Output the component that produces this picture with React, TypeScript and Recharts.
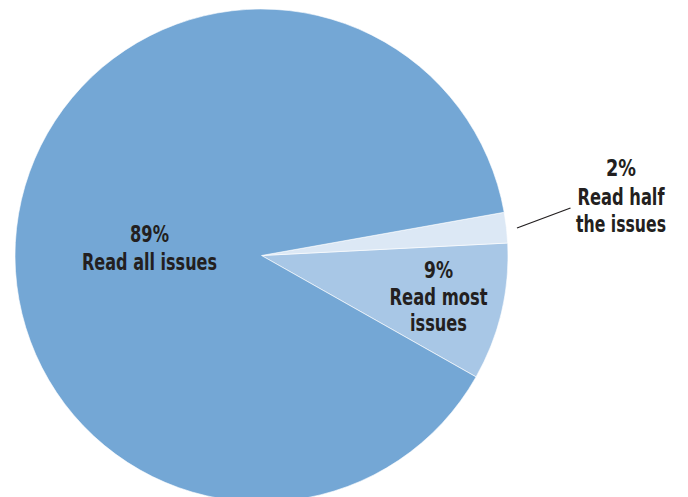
import React from 'react';
import { PieChart, Pie, Cell } from 'recharts';

const categories = ['Read most issues', 'Read half the issues', 'Read all issues'];
const shares = [9, 2, 89];
const labelLines = [
  ['9%', 'Read most', 'issues'],
  ['2%', 'Read half', 'the issues'],
  ['89%', 'Read all issues'],
];

const COLORS = ['#A8C7E6', '#DCE8F5', '#74A7D5'];
const FONT = '"Liberation Sans Narrow", "Arial Narrow", "DejaVu Sans Condensed", "DejaVu Sans", sans-serif';

const data = categories.map((name, i) => ({ name, value: shares[i] }));

// label layout relative to the pie centre: x offset, baseline offsets, line widths
const LABEL_LAYOUT = [
  { dx: 177, ys: [22.5, 49.5, 75.5], widths: [29, 98, 57] },
  { dx: 359.5, ys: [-79.5, -50.5, -23.5], widths: [30, 87, 90] },
  { dx: -112, ys: [-13.5, 14.5], widths: [39, 135] },
];

const renderLabel = (props: any) => {
  const { cx, cy, index } = props;
  const lay = LABEL_LAYOUT[index];
  const x = cx + lay.dx;
  const lines = labelLines[index];
  return (
    <g key={`lbl-${index}`}>
      {index === 1 && (
        <line x1={cx + 255.5} y1={cy - 27.5} x2={cx + 309} y2={cy - 47.5} stroke="#231F20" strokeWidth={1.3} />
      )}
      {lines.map((t, i) => (
        <text
          key={i}
          x={x}
          y={cy + lay.ys[i]}
          textAnchor="middle"
          fill="#231F20"
          fontFamily={FONT}
          fontWeight="bold"
          fontSize={23}
          textLength={lay.widths[i]}
          lengthAdjust="spacingAndGlyphs"
        >
          {t}
        </text>
      ))}
    </g>
  );
};

export default function App() {
  return (
    <div style={{ position: 'absolute', left: 0, top: 0, width: 688, height: 497, background: '#fff', overflow: 'hidden' }}>
      <PieChart width={688} height={497} margin={{ top: 0, right: 0, bottom: 0, left: 0 }}>
        <Pie
          data={data}
          dataKey="value"
          nameKey="name"
          cx={261.5}
          cy={255.5}
          outerRadius={246.5}
          startAngle={-29.5}
          endAngle={330.5}
          stroke="#ffffff"
          strokeWidth={0.6}
          label={renderLabel}
          labelLine={false}
          isAnimationActive={false}
        >
          {data.map((entry, index) => (
            <Cell key={`cell-${index}`} fill={COLORS[index]} />
          ))}
        </Pie>
      </PieChart>
    </div>
  );
}
